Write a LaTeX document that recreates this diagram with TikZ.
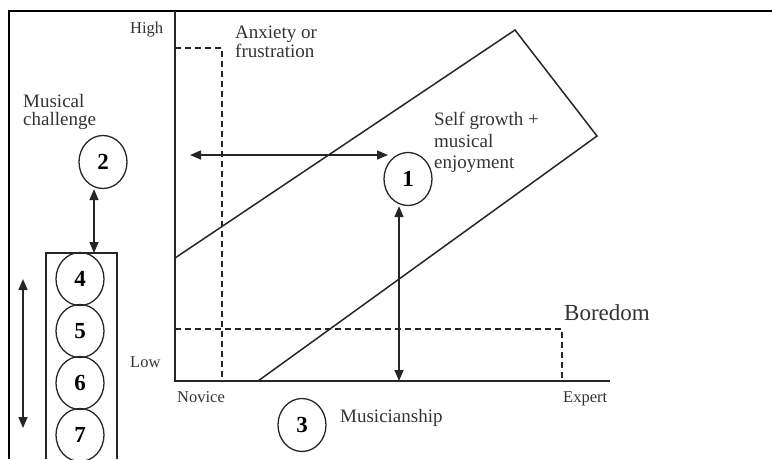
\documentclass[tikz,border=0pt]{standalone}
\usepackage{fontspec}
\setmainfont{Liberation Serif}
\usetikzlibrary{shapes.geometric,arrows.meta}
\begin{document}
\begin{tikzpicture}[x=1pt,y=-1pt,
  ln/.style={line width=1.5pt, draw=black!85},
  num/.style={ellipse, draw=black!85, line width=1.3pt, minimum width=48pt, minimum height=53pt, inner sep=0pt, font=\fontsize{23}{23}\selectfont\bfseries},
  lbl/.style={font=\fontsize{16.5}{18}\selectfont, text=black!80, inner sep=0pt, anchor=base west},
  txt/.style={font=\fontsize{19}{20}\selectfont, text=black!80, inner sep=0pt, anchor=base west},
  dbl/.style={ln, {Triangle[length=11pt,width=9pt]}-{Triangle[length=11pt,width=9pt]}}
]
\useasboundingbox (0,0) rectangle (772,459);
% frame
\draw[line width=1.8pt] (9,459) -- (9,11) -- (772,11);
% axes
\draw[ln] (175,11) -- (175,381) -- (610,381);
% band
\draw[ln] (175,258) -- (515,30) -- (597,136) -- (258,381);
% dashed regions
\draw[ln, dash pattern=on 6pt off 4pt] (175,48) -- (222,48) -- (222,381);
\draw[ln, dash pattern=on 6pt off 4pt] (175,329) -- (562,329) -- (562,381);
% box with circles
\draw[ln] (46,459) -- (46,253) -- (117,253) -- (117,459);
\node[num] (c4) at (80,279) {4};
\node[num] (c5) at (80,331) {5};
\node[num] (c6) at (80,383) {6};
\node[num] (c7) at (80,435) {7};
\node[num] (c2) at (103,162) {2};
\node[num] (c1) at (408,179) {1};
\node[num] (c3) at (302,425) {3};
% coordinates
\coordinate (boxtop) at (94,253);
\coordinate (hL) at (190,155);
\coordinate (hR) at (388,155);
\coordinate (vB) at (399,381);
\coordinate (lT) at (23,279);
\coordinate (lB) at (23,428);
% arrows
\draw[dbl] (c2.south -| boxtop) -- (boxtop);
\draw[dbl] (hL) -- (hR);
\draw[dbl] (vB |- c1.south) -- (vB);
\draw[dbl] (lT) -- (lB);
% labels
\node[lbl] (high) at (130,33) {High};
\node[lbl] (low) at (130,367) {Low};
\node[lbl] (novice) at (177,402) {Novice};
\node[lbl] (expert) at (563,402) {Expert};
\node[txt] (anx1) at (235,38) {Anxiety or};
\node[txt] (anx2) at (235,57) {frustration};
\node[txt] (mc1) at (23,107) {Musical};
\node[txt] (mc2) at (23,125) {challenge};
\node[txt] (sg1) at (434,125) {Self growth +};
\node[txt] (sg2) at (434,147) {musical};
\node[txt] (sg3) at (434,168) {enjoyment};
\node[txt, font=\fontsize{23}{24}\selectfont] (bor) at (564,320) {Boredom};
\node[txt] (mus) at (340,422) {Musicianship};
\end{tikzpicture}
\end{document}
